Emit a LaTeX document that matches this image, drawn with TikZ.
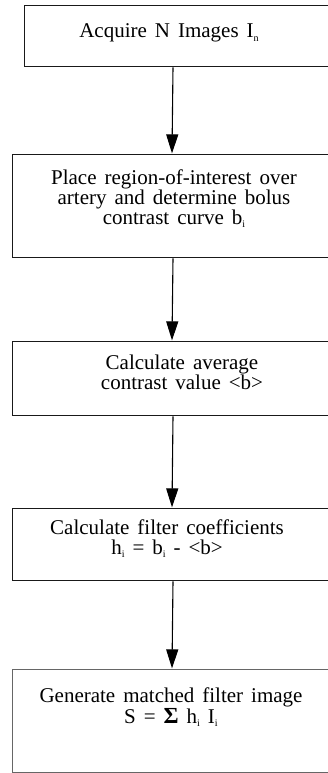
\documentclass[tikz,border=0pt]{standalone}
\usepackage{fontspec}
\setmainfont{Liberation Serif}
\usetikzlibrary{arrows.meta,calc}
\newcommand{\sbx}[1]{\raisebox{-0.35ex}{\fontsize{10}{10}\selectfont #1}}
\newcommand{\flowfontsel}{\fontsize{21}{20}\selectfont\spaceskip=0.38em plus 0.1em\relax}
\begin{document}
\begin{tikzpicture}[x=1pt,y=-1pt,
  flowbox/.style={draw=black!90, line width=1.3pt, rectangle, inner sep=0pt, anchor=north west},
  flowtext/.style={align=center, font=\flowfontsel, inner sep=0pt, anchor=base},
  flowarrow/.style={draw=black, line width=1.1pt, -{Triangle[length=19pt,width=12pt]}, shorten >=0.6pt}]
\useasboundingbox (0,0) rectangle (328,773);
\clip (0,0) rectangle (328,773);
% boxes
\node[flowbox, minimum width=400pt, minimum height=61pt] (b1) at (24,5) {};
\node[flowbox, minimum width=400pt, minimum height=103pt] (b2) at (12,154) {};
\node[flowbox, minimum width=400pt, minimum height=74pt] (b3) at (12,341) {};
\node[flowbox, minimum width=400pt, minimum height=72pt] (b4) at (12,508) {};
\node[flowbox, minimum width=400pt, minimum height=103pt, draw=black!60] (b5) at (12,669) {};
% texts (anchor = baseline of the last line)
\node[flowtext] (t1) at (169,38) {Acquire N Images I\sbx{n}};
\node[flowtext] (t2) at (174,224) {Place region-of-interest over\\artery and determine bolus\\contrast curve b\sbx{i}};
\node[flowtext] (t3) at (182,389) {Calculate average\\contrast value {<}b{>}};
\node[flowtext] (t4) at (167,554) {Calculate filter coefficients\\h\sbx{i} = b\sbx{i} - {<}b{>}};
\node[flowtext] (t5) at (171,723) {Generate matched filter image\\[1pt]S = \smash{\fontsize{23}{20}\selectfont\bfseries Σ} h\sbx{i} I\sbx{i}};
% connectors
\coordinate (a1s) at ($(b1.south west)+(149,0)$);
\coordinate (a1e) at ($(b2.north west)+(160,0)$);
\coordinate (a2s) at ($(b2.south west)+(161,0)$);
\coordinate (a2e) at ($(b3.north west)+(160,0)$);
\coordinate (a3s) at ($(b3.south west)+(161,0)$);
\coordinate (a3e) at ($(b4.north west)+(160,0)$);
\coordinate (a4s) at ($(b4.south west)+(161,0)$);
\coordinate (a4e) at ($(b5.north west)+(160,0)$);
\draw[flowarrow] (a1s) -- (a1e);
\draw[flowarrow] (a2s) -- (a2e);
\draw[flowarrow] (a3s) -- (a3e);
\draw[flowarrow] (a4s) -- (a4e);
\end{tikzpicture}
\end{document}
